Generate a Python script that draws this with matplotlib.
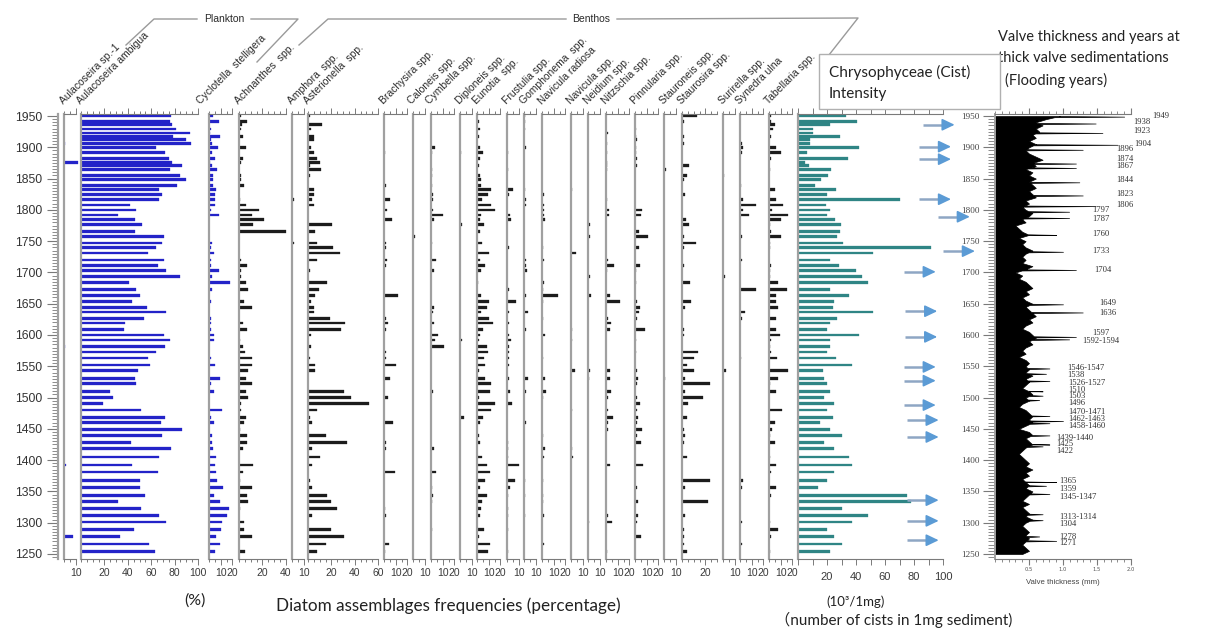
import numpy as np
import matplotlib
matplotlib.use("Agg")
import matplotlib.pyplot as plt
from matplotlib.patches import Rectangle
from matplotlib.lines import Line2D
from matplotlib.ticker import MultipleLocator, FixedLocator

# ---------------------------------------------------------------- data
sample_years = [1950, 1941, 1936, 1929, 1923, 1917, 1912, 1906, 1900, 1892,
                1882, 1876, 1871, 1864, 1855, 1848, 1839, 1832, 1825, 1817,
                1808, 1800, 1792, 1785, 1777, 1765, 1757, 1747, 1740, 1731,
                1720, 1711, 1703, 1694, 1684, 1673, 1663, 1654, 1644, 1637,
                1626, 1619, 1609, 1600, 1592, 1582, 1573, 1563, 1552, 1543,
                1530, 1522, 1510, 1500, 1490, 1480, 1468, 1460, 1449, 1439,
                1428, 1419, 1405, 1392, 1381, 1368, 1356, 1344, 1334, 1323,
                1312, 1301, 1289, 1278, 1266, 1254]

aulacoseira_ambigua = [77, 76, 78, 81, 93, 79, 90, 94, 64, 72,
                       75, 78, 86, 76, 85, 90, 82, 67, 69, 67,
                       42, 47, 32, 46, 52, 46, 71, 69, 64, 57,
                       71, 66, 73, 85, 41, 47, 50, 44, 56, 73,
                       54, 38, 37, 71, 76, 72, 64, 57, 59, 49,
                       46, 47, 25, 27, 19, 51, 72, 68, 86, 69,
                       43, 77, 67, 44, 66, 50, 50, 55, 32, 51,
                       67, 73, 45, 33, 58, 63]

cyclotella_stelligera = [3.4, 8.5, 0, 1.4, 0.6, 9, 1.4, 2.3, 7.7, 2.3,
                         5, 0.6, 2.3, 7, 3.4, 3.4, 3.4, 6.3, 5.4, 5.4,
                         5.4, 1.7, 8.5, 0, 0, 0, 0, 2.3, 1.7, 4.3,
                         1.7, 1.7, 8.8, 2.6, 17.7, 2.6, 0, 2, 0, 0,
                         1.5, 1.5, 1.5, 4, 4, 0, 0, 1.5, 5, 0,
                         9, 1.7, 4.3, 0, 0, 11.4, 1.7, 4, 0, 2.6,
                         2.3, 3.4, 5.7, 5, 5.7, 6.8, 12, 4.3, 9, 17,
                         15.4, 11.4, 10, 6.3, 9, 5]

chrysophyceae_cysts = [33, 41, 22, 10, 10, 29, 8.5, 8.5, 42, 6,
                       34.5, 5, 7.5, 23, 21, 16, 12, 26, 20, 70,
                       19, 22, 20, 25.5, 29.6, 29, 27, 31, 92, 52,
                       22, 28, 40, 44, 48, 22, 35, 25, 24, 52,
                       27, 22, 20, 42, 22, 22, 20, 26, 37, 17,
                       18, 20, 22, 18, 25, 20, 24, 15, 22, 30,
                       18, 25, 35, 37, 25, 20, 14, 75, 78, 30,
                       48, 37, 20, 25, 30, 22]

aulacoseira_sp1 = {1906: 1, 1876: 12, 1582: 1, 1392: 2, 1278: 8}
achnanthes = {1950: 1.5, 1941: 7, 1936: 2.5, 1929: 2, 1917: 3, 1900: 6, 1882: 3,
              1876: 1.5, 1855: 1.5, 1848: 1.5, 1839: 4, 1817: 1, 1808: 6, 1800: 17,
              1792: 11, 1785: 21, 1777: 12, 1765: 40, 1720: 2, 1711: 6.5, 1703: 1.5,
              1694: 1.5, 1684: 6, 1673: 8, 1654: 4.5, 1644: 11, 1619: 3, 1609: 6.5,
              1592: 1, 1582: 3, 1573: 5, 1563: 11, 1552: 11, 1543: 8, 1530: 6,
              1522: 11.5, 1510: 6, 1500: 8, 1490: 1.5, 1480: 1.5, 1468: 6, 1460: 4,
              1449: 1, 1439: 6.5, 1428: 6.5, 1419: 3, 1392: 12, 1381: 3, 1368: 1,
              1356: 11, 1344: 6.5, 1334: 8, 1323: 1, 1301: 4.5, 1289: 4.5,
              1278: 11.5, 1254: 5.5}
amphora = {1817: 2, 1747: 1.4}
asterionella = {1950: 1.4, 1936: 12, 1929: 2.8, 1917: 4.8, 1912: 4.8, 1900: 2.8,
                1892: 4.8, 1882: 7.7, 1876: 10, 1871: 2, 1864: 11.4, 1855: 2,
                1832: 5, 1825: 5, 1817: 3.4, 1808: 4.8, 1777: 20.5, 1765: 5.7,
                1747: 7.7, 1740: 21, 1731: 27, 1720: 8, 1703: 1.4, 1684: 16,
                1673: 9.4, 1663: 5.7, 1654: 2.8, 1644: 5, 1637: 5, 1626: 19,
                1619: 32, 1609: 28.5, 1600: 2.3, 1582: 2.8, 1563: 1.4, 1552: 5.7,
                1543: 5.7, 1510: 30.5, 1500: 36.5, 1490: 52, 1480: 8, 1468: 2,
                1460: 3.4, 1439: 15, 1428: 33, 1419: 3.4, 1405: 10.5, 1392: 3.4,
                1368: 2, 1356: 3.4, 1344: 16, 1334: 20, 1323: 25, 1312: 3.4,
                1289: 20, 1278: 31, 1266: 15, 1254: 7.7}
brachysira = {1892: 1, 1839: 1.4, 1817: 4.8, 1800: 2.6, 1785: 7, 1747: 1.4, 1740: 1.4,
              1720: 2.6, 1711: 2, 1663: 12, 1626: 1.4, 1619: 3.4, 1609: 1.4, 1573: 1.4,
              1563: 1.4, 1552: 10, 1530: 4.8, 1500: 3.4, 1460: 7.7, 1428: 1.4,
              1419: 1.4, 1381: 9.1, 1323: 0.9, 1312: 1.4, 1266: 4, 1254: 0.9}
caloneis = {1757: 2}
cymbella = {1900: 3.4, 1892: 0.7, 1864: 0.7, 1855: 0.7, 1839: 0.7, 1825: 2, 1817: 1.4,
            1800: 2, 1792: 10.5, 1785: 2.6, 1747: 1, 1720: 4.3, 1703: 2.6, 1644: 2.6,
            1637: 1.4, 1619: 2.6, 1600: 5.7, 1592: 3.4, 1582: 11, 1510: 2, 1419: 2.6,
            1381: 4.3, 1356: 1, 1344: 2, 1334: 1, 1289: 1}
diploneis = {1892: 0.8, 1777: 1.4, 1592: 1.7, 1468: 3}
eunotia = {1941: 1.7, 1929: 2.8, 1917: 1.4, 1900: 2.3, 1892: 5, 1882: 2.3, 1871: 1.4,
           1855: 2.3, 1848: 3.4, 1839: 3.7, 1832: 12, 1825: 9.4, 1817: 4.3, 1808: 12,
           1800: 15, 1792: 3, 1785: 2.3, 1777: 5.7, 1765: 2.3, 1747: 4, 1731: 10,
           1720: 2.8, 1711: 7, 1703: 3.7, 1684: 1.1, 1663: 3.4, 1654: 10, 1644: 8.5,
           1637: 3, 1626: 10.5, 1619: 14, 1609: 5, 1600: 2.3, 1592: 1.4, 1582: 8.5,
           1573: 9.4, 1563: 6, 1552: 6.5, 1543: 1.7, 1530: 6.5, 1522: 12, 1510: 11.4,
           1500: 1.4, 1490: 15, 1480: 11.7, 1468: 5, 1460: 2.3, 1439: 1.4, 1428: 2.3,
           1405: 4.6, 1392: 8.8, 1381: 10.8, 1368: 6.5, 1356: 2.3, 1344: 8.5,
           1334: 4.6, 1323: 3.4, 1312: 2.3, 1289: 5.7, 1278: 1.7, 1266: 10.8,
           1254: 9.7}
frustulia = {1892: 0.9, 1864: 0.9, 1832: 5, 1825: 1.7, 1792: 2.3, 1785: 3.7, 1740: 1.4,
             1673: 1.4, 1654: 7.7, 1637: 1.4, 1619: 1.4, 1600: 1.4, 1592: 3.4,
             1582: 1.4, 1573: 1.4, 1563: 1.4, 1552: 1.4, 1530: 1.4, 1510: 2.8,
             1490: 4.3, 1428: 1.1, 1419: 1.1, 1405: 1.1, 1392: 10, 1368: 7,
             1356: 2.8, 1344: 1.1, 1323: 1.1, 1312: 1.1, 1289: 1.1, 1254: 1.1}
gomphonema = {1950: 1.1, 1941: 1.1, 1929: 1.1, 1900: 2, 1832: 1.1, 1817: 1.4, 1808: 1.4,
              1720: 2, 1711: 2, 1703: 2.6, 1663: 2, 1637: 3.4, 1609: 1.4, 1530: 3.4,
              1510: 2, 1460: 2, 1368: 1.1, 1344: 1.1, 1312: 1.1}
navicula_radiosa = {1892: 0.4, 1825: 1.4, 1808: 1.4, 1800: 1.4, 1792: 1.4, 1785: 2.3,
                    1740: 0.9, 1720: 1.4, 1684: 1.4, 1673: 0.9, 1663: 14, 1654: 0.9,
                    1626: 0.9, 1600: 2.3, 1563: 0.9, 1530: 2.3, 1510: 3.7, 1500: 0.9,
                    1439: 0.9, 1419: 2.8, 1405: 1.4, 1368: 0.9, 1344: 0.9, 1334: 0.9,
                    1312: 1.4, 1266: 1.4}
navicula = {1832: 0.9, 1731: 4.6, 1609: 0.9, 1592: 0.9, 1543: 3.7, 1480: 0.9, 1419: 0.9,
            1405: 1.7}
neidium = {1777: 1.4, 1757: 1.7, 1694: 1.4, 1663: 2.3, 1543: 1.4, 1530: 0.9, 1301: 0.9}
nitzschia = {1923: 1.4, 1906: 1.1, 1892: 1.1, 1876: 1.1, 1871: 1.1, 1864: 1.1, 1817: 1.1,
             1800: 2.6, 1792: 2.6, 1720: 2, 1711: 7, 1703: 1.1, 1663: 3, 1654: 12,
             1626: 2, 1619: 4, 1609: 3.4, 1543: 3.4, 1530: 3.4, 1510: 4.3, 1500: 2,
             1480: 1.4, 1468: 6.3, 1460: 2, 1449: 2, 1392: 3.4, 1312: 2, 1301: 4.8,
             1254: 1.1}
pinnularia = {1929: 1.1, 1917: 1.1, 1912: 1.7, 1900: 1.1, 1892: 1.1, 1882: 1.7, 1871: 1.7,
              1800: 6.3, 1792: 5.4, 1765: 3.4, 1757: 11, 1740: 3.4, 1711: 4, 1703: 1.1,
              1684: 1.1, 1654: 1.7, 1644: 4, 1637: 3.4, 1626: 1.7, 1609: 8.3, 1592: 0.6,
              1573: 1.1, 1543: 1.7, 1530: 2.6, 1522: 1.7, 1500: 1.7, 1490: 4,
              1480: 1.7, 1468: 2.6, 1460: 1.7, 1449: 6, 1439: 2, 1428: 4.8, 1392: 6.8,
              1356: 1.7, 1334: 2.6, 1312: 2.6, 1301: 1.7, 1278: 4.8}
stauroneis = {1864: 1.4, 1530: 0.6}
staurosira = {1950: 13, 1941: 2, 1917: 1.4, 1906: 2, 1871: 5.7, 1855: 4.3, 1848: 2,
              1825: 2.8, 1785: 3.7, 1777: 5.7, 1757: 2, 1747: 12, 1740: 2, 1711: 2,
              1684: 6.6, 1654: 7.7, 1644: 2.8, 1609: 1.4, 1600: 2, 1573: 13.4,
              1563: 10, 1552: 4.3, 1543: 10, 1530: 2.8, 1522: 24, 1510: 2.8, 1500: 18,
              1490: 4.8, 1468: 4.3, 1449: 1.4, 1439: 2.8, 1428: 1.4, 1405: 4.3,
              1368: 24, 1356: 2.8, 1334: 22, 1312: 2.8, 1289: 2, 1278: 1.4, 1266: 1.4,
              1254: 4.3}
surirella = {1855: 0.6, 1694: 1.4, 1543: 2.8}
synedra_ulna = {1906: 1.4, 1900: 2.8, 1892: 1.4, 1839: 1.1, 1817: 2.8, 1808: 14, 1800: 2.8,
                1792: 8, 1757: 2, 1720: 1.7, 1673: 13.7, 1637: 4.3, 1626: 1.4, 1563: 1.1,
                1368: 2.3, 1356: 1.7, 1301: 1.7, 1266: 2}
tabellaria = {1950: 2, 1941: 2, 1936: 5, 1929: 3.4, 1917: 2, 1900: 6.3, 1892: 10,
              1882: 2, 1864: 1.1, 1832: 5, 1817: 5.7, 1808: 12, 1800: 2.8, 1792: 16,
              1785: 10.5, 1777: 1.1, 1765: 2, 1757: 10, 1747: 0.6, 1740: 1.1, 1711: 2,
              1703: 1.1, 1694: 1.1, 1684: 7.7, 1673: 15.4, 1663: 6.3, 1654: 6.3,
              1644: 7.7, 1626: 6.3, 1609: 6.3, 1600: 9, 1592: 2, 1582: 1.1, 1573: 2,
              1563: 7, 1543: 16, 1530: 7.7, 1522: 1.1, 1510: 6.3, 1480: 11.4,
              1460: 5.4, 1449: 2.8, 1439: 1.1, 1428: 5, 1405: 1.1, 1392: 5.7,
              1381: 2, 1356: 6.3, 1344: 2, 1301: 1.1, 1289: 7.7, 1278: 2, 1254: 1.1}

# valve thickness (mm): background profile every 5 years and flood-year peaks
thickness_years = list(range(1950, 1245, -5))
thickness_mm = [0.95, 0.75, 0.6, 0.7, 0.6, 0.65, 0.55, 0.6, 0.5, 0.6,
                0.5, 0.45, 0.5, 0.6, 0.7, 0.55, 0.6, 0.45, 0.55, 0.5,
                0.6, 0.5, 0.55, 0.6, 0.5, 0.55, 0.6, 0.45, 0.5, 0.4,
                0.45, 0.55, 0.5, 0.4, 0.45, 0.3, 0.35, 0.4, 0.5, 0.35,
                0.45, 0.4, 0.45, 0.55, 0.45, 0.4, 0.45, 0.4, 0.55, 0.45,
                0.3, 0.4, 0.35, 0.45, 0.5, 0.55, 0.45, 0.5, 0.4, 0.45,
                0.55, 0.45, 0.5, 0.55, 0.6, 0.5, 0.55, 0.45, 0.4, 0.5,
                0.55, 0.6, 0.5, 0.55, 0.45, 0.4, 0.45, 0.35, 0.45, 0.5,
                0.45, 0.5, 0.45, 0.55, 0.45, 0.5, 0.45, 0.4, 0.5, 0.55,
                0.45, 0.5, 0.4, 0.35, 0.45, 0.5, 0.55, 0.5, 0.55, 0.45,
                0.35, 0.5, 0.55, 0.45, 0.5, 0.55, 0.45, 0.4, 0.35, 0.4,
                0.45, 0.5, 0.45, 0.55, 0.45, 0.5, 0.4, 0.45, 0.5, 0.45,
                0.55, 0.5, 0.45, 0.4, 0.5, 0.4, 0.45, 0.5, 0.45, 0.55,
                0.45, 0.4, 0.45, 0.5, 0.45, 0.5, 0.45, 0.4, 0.45, 0.5, 0.4]

flood_labels = ["1949", "1938", "1923", "1904", "1896", "1874", "1867", "1844", "1823",
                "1806", "1797", "1787", "1760", "1733", "1704", "1649", "1636", "1597",
                "1592-1594", "1546-1547", "1538", "1526-1527", "1510", "1503", "1496",
                "1470-1471", "1462-1463", "1458-1460", "1439-1440", "1425", "1422",
                "1365", "1359", "1345-1347", "1313-1314", "1304", "1278", "1271"]
flood_peak_mm = [1.9, 1.48, 1.58, 1.8, 1.29, 1.19, 1.19, 1.24, 1.29,
                 1.48, 1.09, 1.09, 0.9, 1.0, 1.19, 1.0, 1.29, 1.19,
                 1.09, 0.8, 0.75, 0.8, 0.7, 0.7, 0.65,
                 0.8, 1.0, 0.8, 0.8, 0.8, 0.7,
                 0.9, 0.75, 0.8, 0.7, 0.7, 0.65, 0.9]

# flood years marked by arrows on the cyst panel (start of arrow in cyst units)
arrow_years = [1936, 1901, 1881, 1817, 1789, 1734, 1701, 1638, 1597, 1549,
               1527, 1488, 1464, 1437, 1336, 1303, 1272]
arrow_start = [86, 83.5, 83.5, 83.5, 96.5, 100, 73, 74, 74, 73,
               73, 73, 75, 75, 75, 75, 75]

# ---------------------------------------------------------------- layout
W, H = 1207, 628
fig = plt.figure(figsize=(W / 100, H / 100), dpi=100)
fig.patch.set_facecolor("white")


def fx(px):
    return px / W


def fy(py):
    return 1 - py / H


TOP, BOT = 114, 559
YMIN, YMAX = 1242, 1953.2
PX_PER_UNIT = 1.17
AXIS_GREY = "#a0a0a0"
TICK_GREY = "#7a7a7a"
SANS = "Liberation Sans"
BIG = "Lato"

# name, left edge (px), axis maximum, colour, values, header x (px)
diatom_panels = [
    ("Aulacoseira sp.-1", 64, 10, "#2323c8", aulacoseira_sp1, 65),
    ("Aulacoseira ambigua", 81, 100, "#2323c8", dict(zip(sample_years, aulacoseira_ambigua)), 82),
    ("Cyclotella  stelligera", 209, 20, "#2323c8", dict(zip(sample_years, cyclotella_stelligera)), 202),
    ("Achnanthes  spp.", 239, 40, "#1c1c1c", achnanthes, 240),
    ("Amphora  spp.", 292, 10, "#1c1c1c", amphora, 293),
    ("Asterionella  spp.", 308, 60, "#1c1c1c", asterionella, 309),
    ("Brachysira spp.", 384, 20, "#1c1c1c", brachysira, 385),
    ("Caloneis spp.", 413, 10, "#1c1c1c", caloneis, 413),
    ("Cymbella spp.", 431, 20, "#1c1c1c", cymbella, 431),
    ("Diploneis spp.", 460, 10, "#1c1c1c", diploneis, 461),
    ("Eunotia  spp.", 477, 20, "#1c1c1c", eunotia, 478),
    ("Frustulia spp.", 507, 10, "#1c1c1c", frustulia, 508),
    ("Gomphonema  spp.", 524, 10, "#1c1c1c", gomphonema, 525),
    ("Navicula radiosa", 542, 20, "#1c1c1c", navicula_radiosa, 543),
    ("Navicula spp.", 571, 10, "#1c1c1c", navicula, 572),
    ("Neidium spp.", 588, 10, "#1c1c1c", neidium, 589),
    ("Nitzschia spp.", 606, 20, "#1c1c1c", nitzschia, 607),
    ("Pinnularia spp.", 635, 20, "#1c1c1c", pinnularia, 636),
    ("Stauroneis spp.", 664, 10, "#1c1c1c", stauroneis, 665),
    ("Staurosira spp.", 682, 30, "#1c1c1c", staurosira, 683),
    ("Surirella spp.", 723, 10, "#1c1c1c", surirella, 724),
    ("Synedra ulna", 740, 20, "#1c1c1c", synedra_ulna, 741),
    ("Tabellaria spp.", 769, 20, "#1c1c1c", tabellaria, 770),
]

label_ticks = {10: [10], 20: [10, 20], 30: [20], 40: [20, 40], 60: [20, 40, 60],
               100: [20, 40, 60, 80, 100]}


def style_panel(ax, xmax, major, minor, label_size=7.5):
    ax.set_xlim(0, xmax)
    ax.set_ylim(YMIN, YMAX)
    ax.spines["right"].set_visible(False)
    ax.spines["left"].set_color(AXIS_GREY)
    ax.spines["left"].set_linewidth(1.6)
    for side in ("top", "bottom"):
        ax.spines[side].set_color(TICK_GREY)
        ax.spines[side].set_linewidth(0.8)
    ax.set_yticks([])
    ax.patch.set_alpha(0)
    ax.xaxis.set_major_locator(FixedLocator(major))
    ax.xaxis.set_minor_locator(MultipleLocator(minor))
    ax.tick_params(axis="x", which="both", direction="out", top=True, bottom=True,
                   labeltop=False, colors=TICK_GREY, width=0.7, labelcolor="#3a3a3a",
                   labelsize=label_size, pad=2)
    ax.tick_params(axis="x", which="major", length=4.5)
    ax.tick_params(axis="x", which="minor", length=2.5)
    for t in ax.get_xticklabels():
        t.set_fontfamily(SANS)


for name, x0, xmax, color, values, hx in diatom_panels:
    ax = fig.add_axes([fx(x0), fy(BOT), xmax * PX_PER_UNIT / W, (BOT - TOP) / H])
    style_panel(ax, xmax, label_ticks[xmax], 5)
    yrs = [y for y, v in values.items() if v > 0]
    vals = [v for y, v in values.items() if v > 0]
    ax.barh(yrs, vals, height=4.3, color=color, edgecolor=color, linewidth=0.2,
            clip_on=False)
    fig.text(fx(hx), fy(106), name, rotation=45, rotation_mode="anchor",
             ha="left", va="bottom", fontsize=7.5, family=SANS, color="#2a2a2a")

# left year axis
ax_year = fig.add_axes([fx(58), fy(BOT), 0.0005, (BOT - TOP) / H])
ax_year.set_ylim(YMIN, YMAX)
ax_year.set_xticks([])
for side in ("top", "right", "bottom"):
    ax_year.spines[side].set_visible(False)
ax_year.spines["left"].set_color(AXIS_GREY)
ax_year.spines["left"].set_linewidth(1.6)
ax_year.yaxis.set_major_locator(MultipleLocator(50))
ax_year.yaxis.set_minor_locator(MultipleLocator(5))
ax_year.tick_params(axis="y", which="both", direction="out", colors=TICK_GREY,
                    labelcolor="#333333", labelsize=8.8, pad=3)
ax_year.tick_params(axis="y", which="major", length=8)
ax_year.tick_params(axis="y", which="minor", length=4.5)
ax_year.set_ylim(YMIN, YMAX)
for t in ax_year.get_yticklabels():
    t.set_fontfamily(SANS)

# cyst panel
ax_c = fig.add_axes([fx(798), fy(BOT), 145 / W, (BOT - TOP) / H])
style_panel(ax_c, 100, [20, 40, 60, 80, 100], 10, label_size=8)
ax_c.tick_params(axis="x", which="both", length=4.5)
ax_c.tick_params(axis="x", pad=5)
ax_c.barh(sample_years, chrysophyceae_cysts, height=4.3, color="#2f8585",
          edgecolor="#2f8585", linewidth=0.2)
for yr, xs in zip(arrow_years, arrow_start):
    ax_c.plot([xs, xs + 15], [yr, yr], color="#8ea6c4", lw=1.8, clip_on=False,
              solid_capstyle="butt")
    ax_c.annotate("", xy=(xs + 22, yr), xytext=(xs + 14, yr), annotation_clip=False,
                  arrowprops=dict(arrowstyle="-|>,head_length=0.75,head_width=0.36",
                                  color="#5b9bd5", lw=1.2, shrinkA=0, shrinkB=0))

# valve thickness panel with the right-hand year axis
ax_v = fig.add_axes([fx(995), fy(BOT), 136 / W, (BOT - TOP) / H])
ax_v.set_xlim(0, 2.0)
ax_v.set_ylim(YMIN, YMAX)
ax_v.spines["right"].set_visible(False)
ax_v.spines["left"].set_color(AXIS_GREY)
ax_v.spines["left"].set_linewidth(1.4)
for side in ("top", "bottom"):
    ax_v.spines[side].set_color(TICK_GREY)
    ax_v.spines[side].set_linewidth(0.8)
ax_v.xaxis.set_major_locator(FixedLocator([0.5, 1.0, 1.5, 2.0]))
ax_v.xaxis.set_minor_locator(MultipleLocator(0.1))
ax_v.tick_params(axis="x", which="both", direction="out", top=True, bottom=True,
                 colors=TICK_GREY, labelcolor="#555555", labelsize=3.8, pad=2)
ax_v.tick_params(axis="x", which="major", length=4)
ax_v.tick_params(axis="x", which="minor", length=2.5)
ax_v.xaxis.set_major_formatter(plt.FuncFormatter(lambda v, p: f"{v:.1f}"))
ax_v.set_xlabel("Valve thickness (mm)", fontsize=5.6, family=SANS, color="#444444",
                labelpad=5)
ax_v.yaxis.set_major_locator(MultipleLocator(50))
ax_v.yaxis.set_minor_locator(MultipleLocator(5))
ax_v.tick_params(axis="y", which="both", direction="out", colors=TICK_GREY,
                 labelcolor="#444444", labelsize=6.6, pad=2)
ax_v.tick_params(axis="y", which="major", length=9)
ax_v.tick_params(axis="y", which="minor", length=5)
for t in ax_v.get_yticklabels():
    t.set_fontfamily("Liberation Serif")

# build the profile: background values plus narrow spikes at flood years
flood_years = []
for lab in flood_labels:
    parts = [int(p) for p in lab.split("-")]
    flood_years.append(sum(parts) / len(parts))
base_y = np.array(thickness_years[::-1], dtype=float)
base_x = np.array(thickness_mm[::-1], dtype=float)
spike_y, spike_x = [], []
for fyr, pk in zip(flood_years, flood_peak_mm):
    for dy in (-0.9, 0.9):
        spike_y.append(fyr + dy)
        spike_x.append(np.interp(fyr + dy, base_y, base_x))
    spike_y.append(fyr)
    spike_x.append(pk)
vt_y = np.concatenate([base_y, spike_y])
vt_x = np.concatenate([base_x, spike_x])
order = np.argsort(vt_y, kind="stable")
ax_v.fill_betweenx(vt_y[order], 0, vt_x[order], color="black", lw=0.5)

label_x = [1152, 1133, 1133, 1134, 1116, 1116, 1116, 1116, 1116, 1116, 1092, 1092,
           1092, 1092, 1094, 1099, 1099, 1092, 1082, 1067, 1067, 1068, 1068, 1068,
           1068, 1068, 1068, 1068, 1056, 1056, 1056, 1059, 1059, 1059, 1059, 1059,
           1059, 1059]
label_py = [116, 122, 131, 144, 149, 159, 166, 180, 194, 205, 210, 219, 234, 251, 270,
            303, 313, 333, 341, 368, 375, 383, 390, 396, 403, 412, 419, 426, 438, 444,
            451, 481, 489, 497, 517, 524, 537, 543]
for lab, px, py in zip(flood_labels, label_x, label_py):
    fig.text(fx(px), fy(py), lab, fontsize=6.2, family="Liberation Serif",
             color="#333333", ha="left", va="center")

# ---------------------------------------------------------------- group headers
def fig_line(points, color="#9a9a9a", lw=1.0):
    xs = [fx(p[0]) for p in points]
    ys = [fy(p[1]) for p in points]
    fig.add_artist(Line2D(xs, ys, color=color, lw=lw, transform=fig.transFigure))


fig_line([(126, 45), (154, 19), (197, 19)])
fig_line([(251, 19), (298, 19), (257, 62)])
fig.text(fx(224), fy(19), "Plankton", ha="center", va="center", fontsize=7.5,
         family=SANS, color="#2a2a2a")
fig_line([(299, 45), (328, 19), (566, 19)])
fig_line([(617, 19), (858, 18), (825, 60)])
fig.text(fx(591), fy(19), "Benthos", ha="center", va="center", fontsize=7.5,
         family=SANS, color="#2a2a2a")

box = Rectangle((fx(819), fy(109)), fx(181), 55 / H, transform=fig.transFigure,
                facecolor="white", edgecolor="#b0b0b0", lw=1.0, zorder=5)
fig.add_artist(box)
fig.text(fx(829), fy(72), "Chrysophyceae (Cist)", fontsize=11, family=BIG,
         color="#222222", va="center", ha="left", zorder=6)
fig.text(fx(829), fy(94), "Intensity", fontsize=11, family=BIG,
         color="#222222", va="center", ha="left", zorder=6)

fig.text(fx(998), fy(37), "Valve thickness and years at", fontsize=10.5, family=BIG,
         color="#222222", va="center", ha="left")
fig.text(fx(998), fy(58), "thick valve sedimentations", fontsize=10.5, family=BIG,
         color="#222222", va="center", ha="left")
fig.text(fx(1005), fy(80), "(Flooding years)", fontsize=10.5, family=BIG,
         color="#222222", va="center", ha="left")

# ---------------------------------------------------------------- bottom captions
fig.text(fx(195), fy(601), "(%)", fontsize=11.5, family=BIG, color="#222222",
         ha="center", va="center")
fig.text(fx(448), fy(606), "Diatom assemblages frequencies (percentage)", fontsize=12.3,
         family=BIG, color="#222222", ha="center", va="center")
fig.text(fx(856), fy(602), "(10³/1mg)", fontsize=9.5, family=BIG, color="#222222",
         ha="center", va="center")
fig.text(fx(775), fy(620), "（number of cists in 1mg sediment)", fontsize=11,
         family=[BIG, "Noto Sans CJK JP"], color="#222222", ha="left", va="center")

fig.savefig("out.png", dpi=100, facecolor="white")
